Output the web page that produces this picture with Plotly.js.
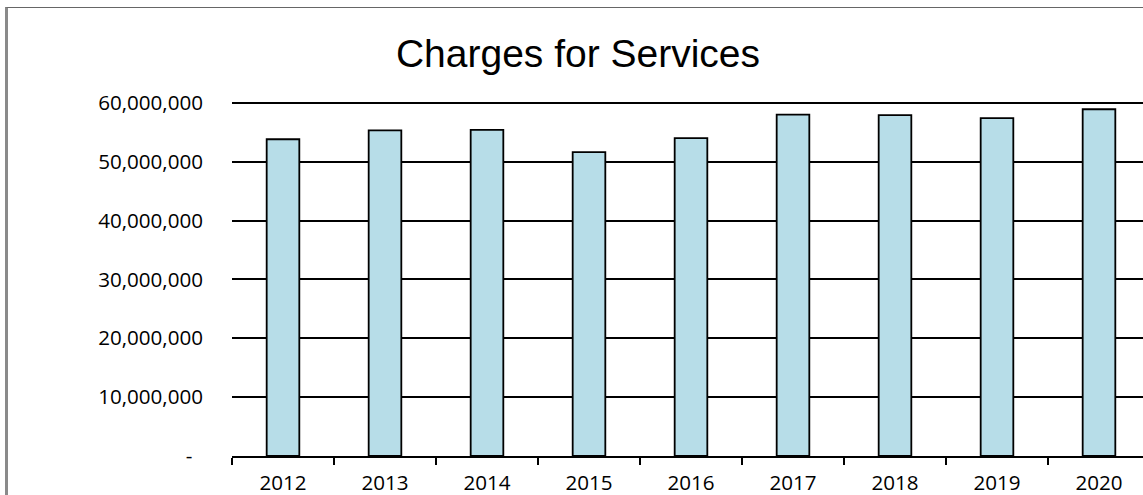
<!DOCTYPE html>
<html>
<head>
<meta charset="utf-8">
<script src="https://cdn.plot.ly/plotly-3.0.1.min.js"></script>
<style>
  html, body { margin: 0; padding: 0; overflow: hidden; background: #fff; }
  #wrap { position: relative; width: 1143px; height: 495px; overflow: hidden; }
  #chart { position: absolute; left: 0; top: 0; }
  #frame { position: absolute; left: 5px; top: 7px; width: 1200px; height: 600px;
           border-left: 3px solid #8a8a8a; border-top: 1px solid #666; pointer-events: none; }
</style>
</head>
<body>
<div id="wrap">
  <div id="chart"></div>
  <div id="frame"></div>
</div>
<script>
const years = ['2012','2013','2014','2015','2016','2017','2018','2019','2020'];
const charges = [53800000, 55300000, 55400000, 51600000, 54000000, 58000000, 57900000, 57400000, 58900000];
const yTickVals = [0, 10000000, 20000000, 30000000, 40000000, 50000000, 60000000];
const yTickText = ['-\u00a0\u00a0', '10,000,000', '20,000,000', '30,000,000', '40,000,000', '50,000,000', '60,000,000'];
const chartTitle = 'Charges for Services';

const W = 1160, H = 495;
const trace = {
  type: 'bar',
  x: years,
  y: charges,
  width: 0.32,
  marker: { color: '#b7dde8', line: { color: '#000', width: 1.8 } },
  hoverinfo: 'x+y'
};
const layout = {
  width: W, height: H,
  margin: { l: 232, r: 10, t: 101, b: 39 },
  paper_bgcolor: 'rgba(0,0,0,0)',
  plot_bgcolor: 'rgba(0,0,0,0)',
  showlegend: false,
  title: {
    text: chartTitle,
    font: { family: 'Liberation Sans, Arial, sans-serif', size: 39, color: '#000' },
    xref: 'container', x: 578 / W, xanchor: 'center',
    yref: 'container', y: 1 - 53 / H, yanchor: 'middle'
  },
  xaxis: {
    type: 'category',
    tickson: 'boundaries',
    ticks: 'outside', ticklen: 7, tickwidth: 2, tickcolor: '#000',
    showline: true, linecolor: '#000', linewidth: 2,
    showgrid: false, zeroline: false,
    ticklabelstandoff: 7,
    tickfont: { family: 'Open Sans, sans-serif', size: 20.6, color: '#000' },
    fixedrange: true
  },
  yaxis: {
    range: [0, 60300000],
    tickvals: yTickVals, ticktext: yTickText,
    ticks: '', showline: false, zeroline: false,
    showgrid: true, gridcolor: '#000', gridwidth: 2,
    ticklabelstandoff: 28,
    tickfont: { family: 'Open Sans, sans-serif', size: 20.6, color: '#000' },
    fixedrange: true
  }
};
Plotly.newPlot('chart', [trace], layout, { displayModeBar: false, staticPlot: true });
</script>
</body>
</html>
